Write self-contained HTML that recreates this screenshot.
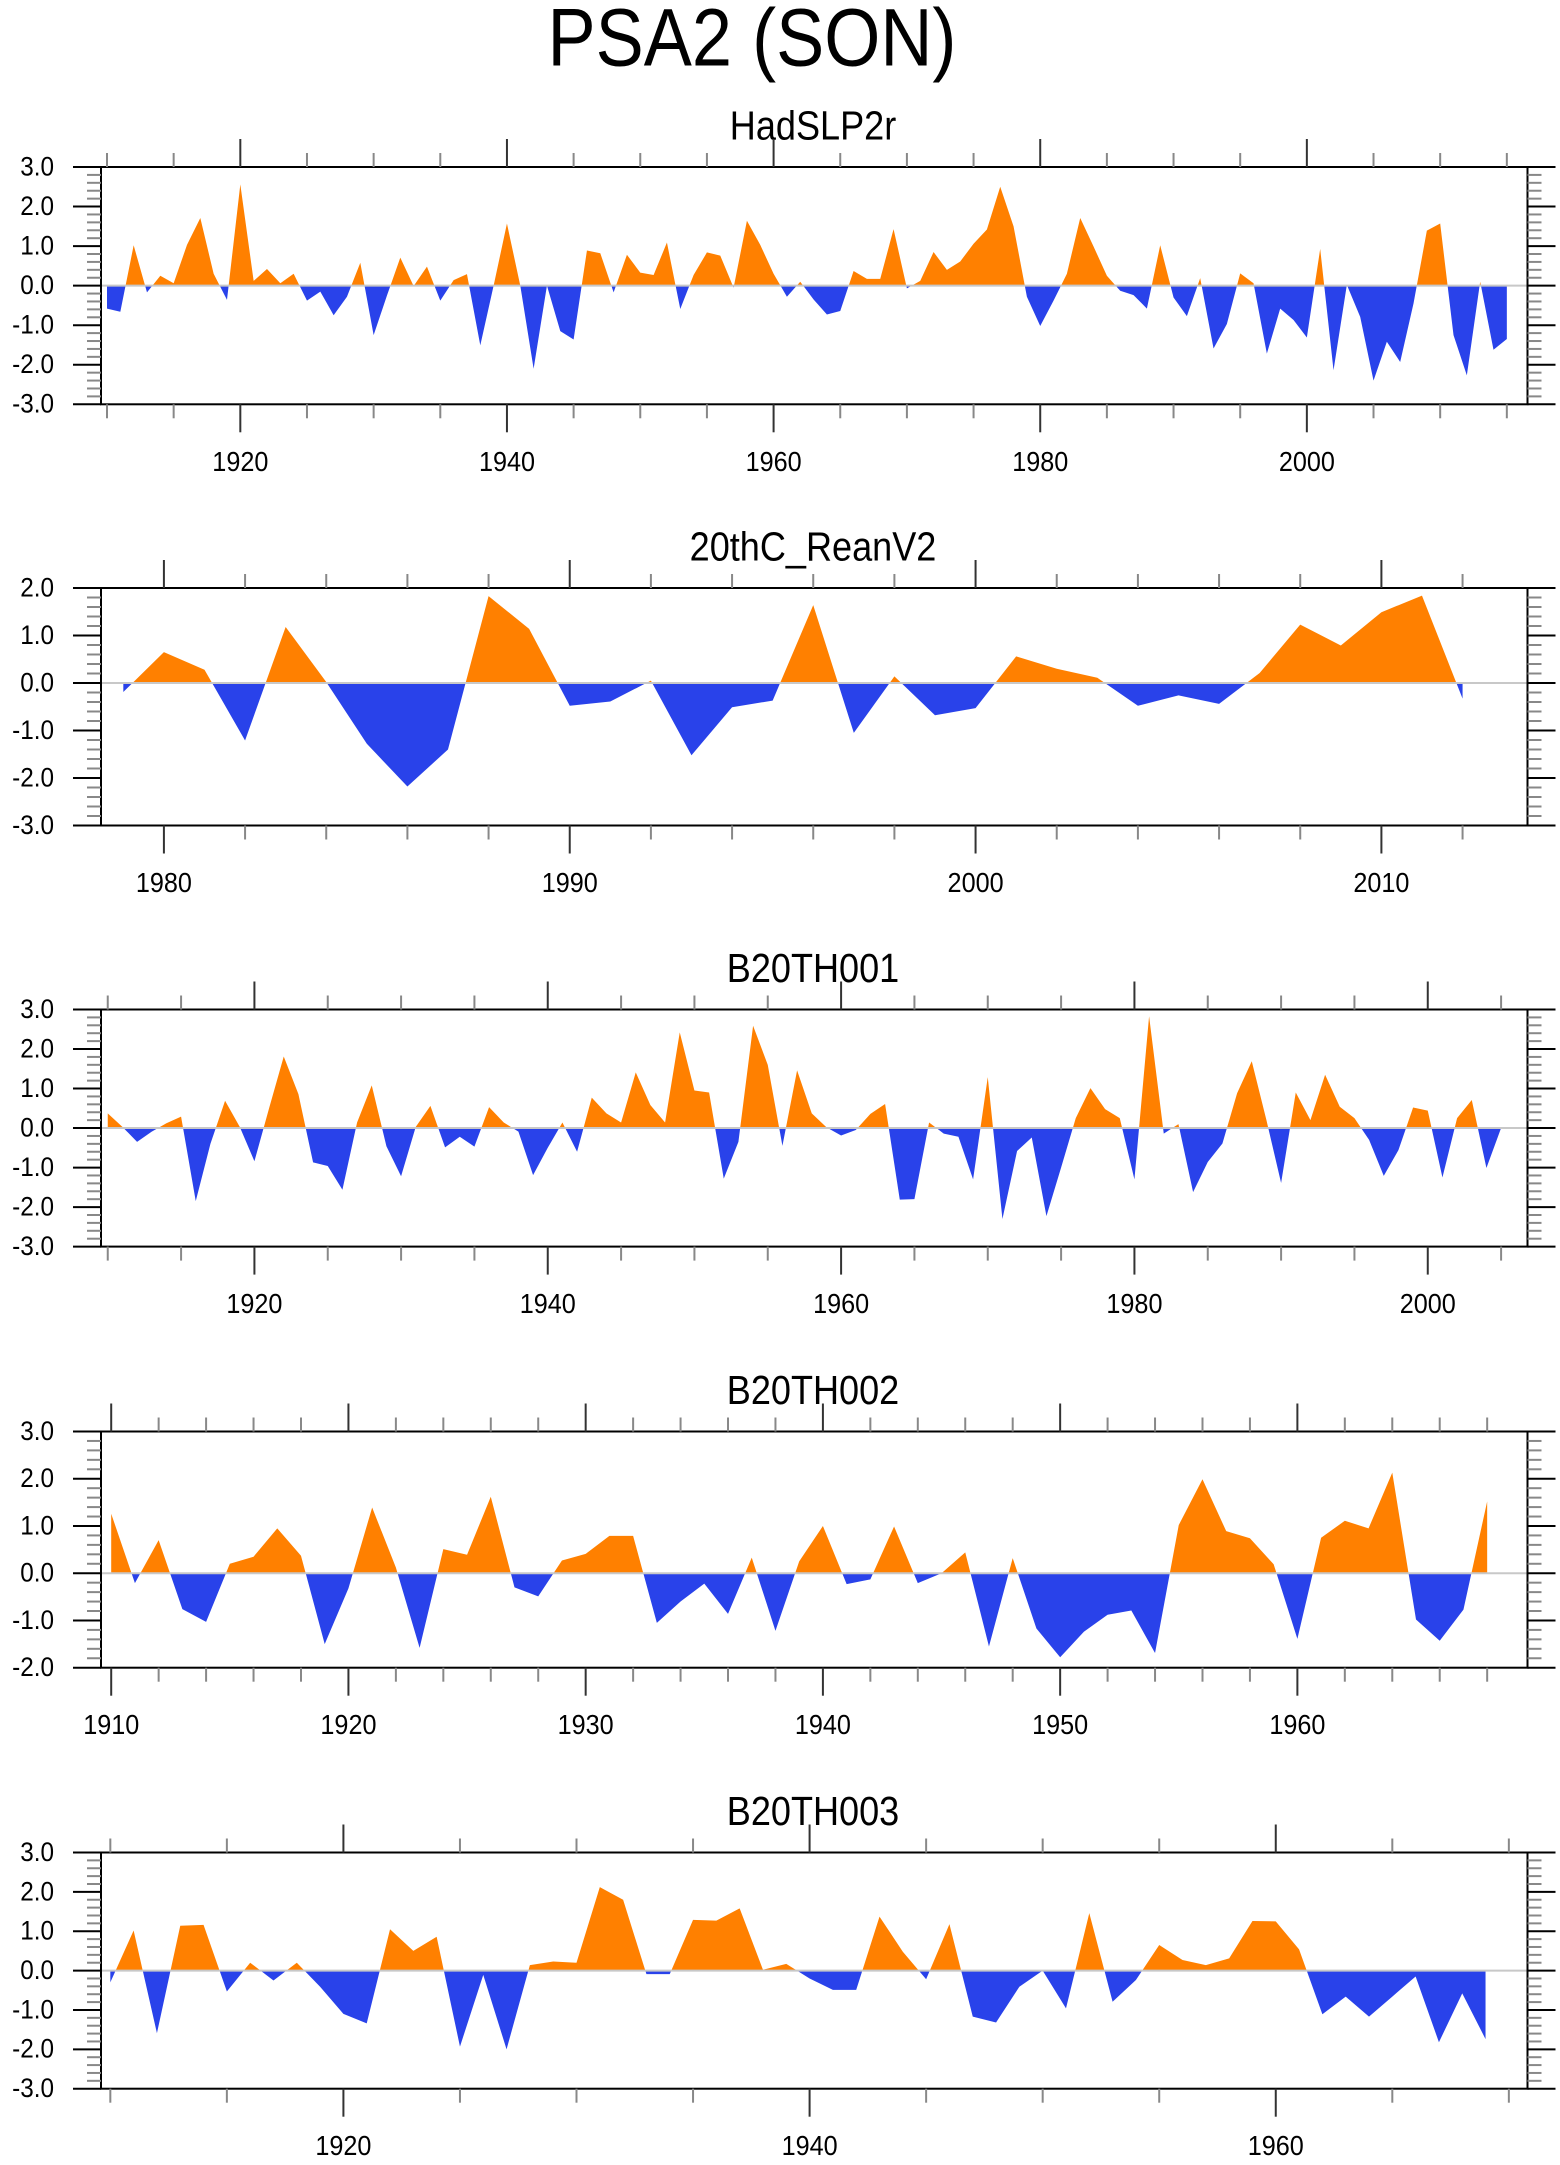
<!DOCTYPE html>
<html><head><meta charset="utf-8">
<style>
html,body{margin:0;padding:0;background:#fff;}
svg{display:block;font-family:"Liberation Sans",Arial,sans-serif;}
</style></head>
<body>
<svg id="chart" width="1560" height="2165" viewBox="0 0 1560 2165" xmlns="http://www.w3.org/2000/svg">
<text transform="translate(752,38) scale(0.88,1)" x="0" y="0" font-size="82" text-anchor="middle" dominant-baseline="central">PSA2 (SON)</text>
</svg>
<script>
// ---- data ----
const hadYears0 = 1910;
const hadValues = [-0.58,-0.66,1.02,-0.17,0.25,0.06,1.03,1.71,0.3,-0.36,2.56,0.12,0.42,0.06,0.3,-0.38,-0.15,-0.75,-0.28,0.58,
-1.25,-0.25,0.71,-0.01,0.48,-0.38,0.14,0.29,-1.51,0.0,1.57,0.0,-2.1,0.0,-1.15,-1.36,0.89,0.82,-0.17,0.78,
0.33,0.27,1.09,-0.59,0.27,0.84,0.76,-0.05,1.64,1.03,0.3,-0.28,0.1,-0.35,-0.73,-0.64,0.37,0.17,0.17,1.43,
-0.07,0.12,0.85,0.4,0.61,1.06,1.42,2.5,1.5,-0.28,-1.02,-0.38,0.3,1.71,0.99,0.25,-0.13,-0.24,-0.58,1.02,
-0.3,-0.77,0.19,-1.59,-0.97,0.31,0.06,-1.72,-0.58,-0.87,-1.31,0.93,-2.14,0.02,-0.79,-2.4,-1.42,-1.93,-0.45,1.39,
1.57,-1.25,-2.27,0.1,-1.62,-1.35];
const reanYears0 = 1979;
const reanValues = [-0.19,0.65,0.28,-1.21,1.18,0.02,-1.28,-2.18,-1.4,1.83,1.14,-0.48,-0.39,0.05,-1.52,-0.51,-0.37,1.64,-1.05,0.14,
-0.68,-0.53,0.56,0.3,0.11,-0.48,-0.26,-0.44,0.21,1.23,0.79,1.49,1.84,-0.33];
const b001Years0 = 1910;
const b001Values = [0.37,0.03,-0.35,-0.09,0.12,0.29,-1.85,-0.4,0.69,0.03,-0.84,0.5,1.81,0.86,-0.87,-0.96,-1.56,0.14,1.08,-0.46,
-1.22,0.03,0.56,-0.49,-0.22,-0.47,0.53,0.14,-0.09,-1.19,-0.5,0.14,-0.6,0.77,0.37,0.14,1.41,0.58,0.14,2.42,
0.95,0.9,-1.28,-0.35,2.59,1.6,-0.45,1.46,0.37,0.02,-0.19,-0.05,0.36,0.61,-1.81,-1.8,0.14,-0.14,-0.22,-1.3,
1.29,-2.3,-0.58,-0.24,-2.23,-1.0,0.25,1.01,0.48,0.25,-1.3,2.83,-0.14,0.1,-1.62,-0.86,-0.39,0.88,1.69,0.2,
-1.39,0.9,0.2,1.35,0.54,0.25,-0.3,-1.21,-0.56,0.52,0.44,-1.25,0.25,0.71,-1.01,0.0];
const b002Years0 = 1910;
const b002Values = [1.26,-0.21,0.7,-0.76,-1.03,0.2,0.35,0.95,0.37,-1.5,-0.32,1.39,0.12,-1.58,0.51,0.39,1.62,-0.3,-0.49,0.27,
0.41,0.79,0.79,-1.05,-0.6,-0.22,-0.86,0.33,-1.22,0.25,1.0,-0.23,-0.13,0.99,-0.21,0.0,0.44,-1.55,0.32,-1.17,
-1.78,-1.24,-0.88,-0.79,-1.69,1.02,1.99,0.89,0.74,0.19,-1.39,0.75,1.11,0.95,2.13,-0.98,-1.43,-0.77,1.52];
const b003Years0 = 1910;
const b003Values = [-0.3,1.02,-1.59,1.14,1.16,-0.53,0.2,-0.25,0.2,-0.41,-1.1,-1.34,1.05,0.5,0.86,-1.93,-0.11,-2.0,0.14,0.23,
0.2,2.12,1.8,-0.09,-0.09,1.29,1.27,1.58,0.02,0.17,-0.2,-0.49,-0.49,1.37,0.48,-0.22,1.18,-1.17,-1.32,-0.41,
0.0,-0.96,1.46,-0.79,-0.24,0.65,0.27,0.14,0.31,1.26,1.25,0.54,-1.11,-0.66,-1.17,-0.66,-0.15,-1.82,-0.58,-1.74];
const yTickLabels = ["-3.0","-2.0","-1.0","0.0","1.0","2.0","3.0"];

const NS = "http://www.w3.org/2000/svg";
const svg = document.getElementById('chart');
function mk(tag, attrs, parent){
  const e = document.createElementNS(NS, tag);
  for (const k in attrs) e.setAttribute(k, attrs[k]);
  (parent||svg).appendChild(e);
  return e;
}
const L = 101, R = 1527.5;
const panels = [
  {name:'hadslp2r', title:'HadSLP2r', top:167, bottom:404.3, ymin:-3, ymax:3, xmin:1909.55, xmax:2016.55, major:20, minor:5, tick0:1910, tick1:2015, y0:hadYears0, vals:hadValues},
  {name:'20thc-reanv2', title:'20thC_ReanV2', top:588, bottom:825.5, ymin:-3, ymax:2, xmin:1978.45, xmax:2013.6, major:10, minor:2, tick0:1980, tick1:2012, y0:reanYears0, vals:reanValues},
  {name:'b20th001', title:'B20TH001', top:1009.5, bottom:1246.6, ymin:-3, ymax:3, xmin:1909.54, xmax:2006.8, major:20, minor:5, tick0:1910, tick1:2005, y0:b001Years0, vals:b001Values},
  {name:'b20th002', title:'B20TH002', top:1431.5, bottom:1667.7, ymin:-2, ymax:3, xmin:1909.57, xmax:1969.7, major:10, minor:2, tick0:1910, tick1:1968, y0:b002Years0, vals:b002Values},
  {name:'b20th003', title:'B20TH003', top:1852.5, bottom:2088.7, ymin:-3, ymax:3, xmin:1909.6, xmax:1970.8, major:20, minor:5, tick0:1910, tick1:1970, y0:b003Years0, vals:b003Values}
];
panels.forEach((p, pi) => {
  const g = mk('g', {});
  
  
  const xs = v => L + (v - p.xmin) / (p.xmax - p.xmin) * (R - L);
  const ys = v => p.bottom - (v - p.ymin) / (p.ymax - p.ymin) * (p.bottom - p.top);
  const t = mk('text', {transform:'translate(813,' + (p.top-41) + ') scale(0.88,1)', x:0, y:0, 'font-size':41, 'text-anchor':'middle', 'dominant-baseline':'central'}, g);
  t.textContent = p.title;
  
  
  const defs = mk('defs', {}, g);
  const y0 = ys(0);
  const cpA = mk('clipPath', {id:'ca'+pi}, defs); mk('rect', {x:L, y:p.top, width:R-L, height:y0-p.top}, cpA);
  const cpB = mk('clipPath', {id:'cb'+pi}, defs); mk('rect', {x:L, y:y0, width:R-L, height:p.bottom-y0}, cpB);
  let d = 'M' + xs(p.y0).toFixed(2) + ',' + y0.toFixed(2);
  p.vals.forEach((v, i) => { d += ' L' + xs(p.y0 + i).toFixed(2) + ',' + ys(v).toFixed(2); });
  d += ' L' + xs(p.y0 + p.vals.length - 1).toFixed(2) + ',' + y0.toFixed(2) + ' Z';
  const pos = mk('path', {d:d, fill:'#ff8000', 'clip-path':'url(#ca'+pi+')'}, g);
  
  
  const neg = mk('path', {d:d, fill:'#2942ea', 'clip-path':'url(#cb'+pi+')'}, g);
  
  
  const zl = mk('line', {x1:L, x2:R, y1:y0, y2:y0, stroke:'#c8c8c8', 'stroke-width':2}, g);
  
  
  const fr = mk('rect', {x:L, y:p.top, width:R-L, height:p.bottom-p.top, fill:'none', stroke:'#000', 'stroke-width':2}, g);
  
  
  for (let k = 0; Math.round((p.ymin + k*0.2)*10) <= p.ymax*10; k++) {
    const v = p.ymin + k*0.2;
    const isMaj = k % 5 === 0;
    const yy = ys(v);
    const len = isMaj ? 28 : 14;
    const col = isMaj ? '#000' : '#888';
    mk('line', {x1:L-len, x2:L, y1:yy, y2:yy, stroke:col, 'stroke-width':2}, g);
    mk('line', {x1:R, x2:R+len, y1:yy, y2:yy, stroke:col, 'stroke-width':2}, g);
    if (isMaj) {
      const lab = mk('text', {transform:'translate(54,' + yy + ') scale(0.9,1)', x:0, y:0, 'font-size':27, 'text-anchor':'end', 'dominant-baseline':'central'}, g);
      lab.textContent = yTickLabels[Math.round(v) + 3];
      
      
    }
  }
  for (let yr = p.tick0; yr <= p.tick1; yr += p.minor) {
    const xx = xs(yr);
    const isMaj = yr % p.major === 0;
    const len = isMaj ? 28 : 14;
    const col = isMaj ? '#333' : '#888';
    mk('line', {x1:xx, x2:xx, y1:p.top-len, y2:p.top, stroke:col, 'stroke-width':2}, g);
    mk('line', {x1:xx, x2:xx, y1:p.bottom, y2:p.bottom+len, stroke:col, 'stroke-width':2}, g);
    if (isMaj) {
      const lab = mk('text', {transform:'translate(' + xx + ',' + (p.bottom+57) + ') scale(0.9,1)', x:0, y:0, 'font-size':28, 'text-anchor':'middle', 'dominant-baseline':'central'}, g);
      lab.textContent = String(yr);
      
      
    }
  }
});
</script>
</body></html>
